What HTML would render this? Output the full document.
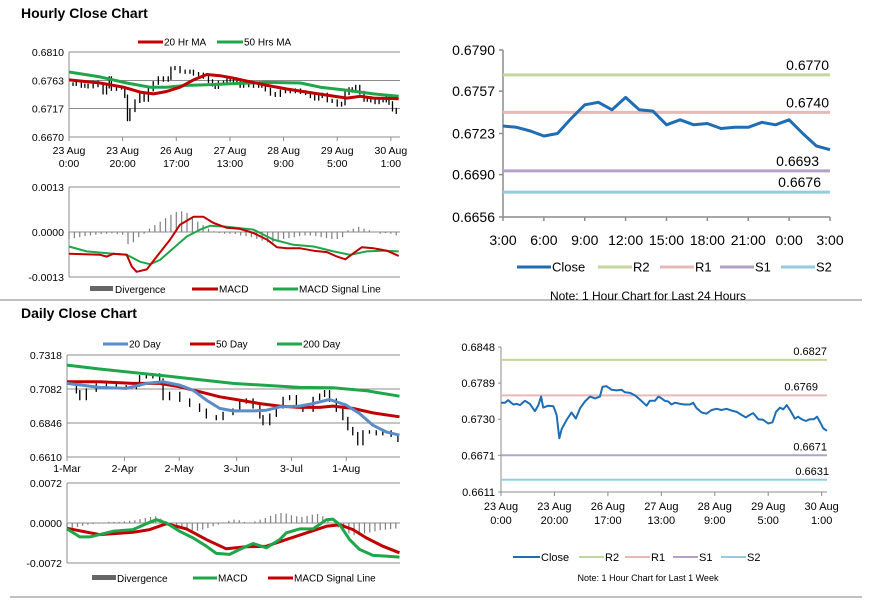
<!DOCTYPE html>
<html><head><meta charset="utf-8"><style>
html,body{margin:0;padding:0;background:#fff;}
svg{display:block;font-family:"Liberation Sans",Arial,sans-serif;}
</style></head><body>
<svg id="root" width="873" height="601" viewBox="0 0 873 601" xmlns="http://www.w3.org/2000/svg">
<text x="21" y="18" font-size="14" font-weight="bold" fill="#000">Hourly Close Chart</text>
<text x="21" y="318" font-size="14" font-weight="bold" fill="#000">Daily Close Chart</text>
<line x1="0" y1="300" x2="862" y2="300" stroke="#9a9a9a" stroke-width="1.2"/>
<line x1="10" y1="597" x2="862" y2="597" stroke="#9a9a9a" stroke-width="1.2"/>
</svg>
<script>
// ---------- DATA ----------
const weekIdx=[0,1.5,2.7,4.6,5.9,7.1,9,10.8,12.7,14,15,15.8,17.7,19.6,20.8,21.8,22.7,24.6,26.4,28,29.6,31.4,33.3,35.2,37,38,39.5,41.4,43.3,45.1,46.4,48.3,50.1,52,53.5,54.5,55.7,57.6,58.9,60.1,61.3,62.6,63.8,65.1,67,68.8,70.7,71.9,73.2,75.1,76.9,78.8,80.7,82.5,84.4,86.3,88.2,90,91.6,93.1,94.4,96.3,98.1,100,101.6,102.9,104.4,105.6,106.9,108.4,110,111.2,112.5,114.1,115.6,117.1,118.3,119.3,120.6,122];
const weekClose=[0.6757,0.6757,0.6761,0.6754,0.6755,0.6753,0.6760,0.6755,0.6743,0.6753,0.6767,0.6749,0.6752,0.6751,0.6737,0.6699,0.6714,0.6729,0.6741,0.6731,0.6748,0.6759,0.6767,0.6764,0.6767,0.6783,0.6784,0.6778,0.6777,0.6778,0.6774,0.6773,0.6769,0.6762,0.6756,0.6752,0.6760,0.6760,0.6767,0.6764,0.6760,0.6759,0.6754,0.6757,0.6755,0.6754,0.6754,0.6757,0.6748,0.6741,0.6739,0.6745,0.6747,0.6745,0.6747,0.6744,0.6742,0.6737,0.6733,0.6737,0.6740,0.6730,0.6729,0.6723,0.6725,0.6742,0.6749,0.6746,0.6753,0.6743,0.6731,0.6734,0.6730,0.6727,0.6730,0.6730,0.6734,0.6726,0.6715,0.6711];
const weekTickIdx=[0,20,40,60,80,100,120];
const weekTickDay=["23 Aug","23 Aug","26 Aug","27 Aug","28 Aug","29 Aug","30 Aug"];
const weekTickTime=["0:00","20:00","17:00","13:00","9:00","5:00","1:00"];
const ma20Idx=[0,11.6,20.3,26.5,31.5,36.4,41.4,46.4,51.4,56.3,61.3,66.3,73.8,81.2,88.7,96.1,103.6,108.6,113.6,122.9];
const ma20Val=[0.6764,0.6759,0.6752,0.6744,0.6741,0.6745,0.6752,0.6764,0.6773,0.6771,0.6767,0.6762,0.6755,0.6749,0.6744,0.6739,0.6734,0.6737,0.6734,0.6733];
const ma50Idx=[0,11.6,21.5,30.2,36.4,43.9,51.4,61.3,73.8,86.3,93.7,103.6,113.6,122.9];
const ma50Val=[0.6777,0.6769,0.6759,0.6752,0.6752,0.6755,0.6756,0.6758,0.6760,0.6759,0.6752,0.6747,0.6741,0.6737];
const hPriceTicks=[0.6670,0.6717,0.6763,0.6810];
const hMacdTicks=[-0.0013,0.0000,0.0013];
const hMacdIdx=[0,11.6,14.1,16.5,21.5,23.4,25.2,29,32.7,37.7,41.4,46.4,50.1,53.9,58.8,63.8,68.8,73.8,77.5,81.2,86.2,91.2,96.1,99.9,103,106.1,109.2,113.6,118.5,122.9];
const hMacdVal=[-0.00063,-0.00066,-0.00071,-0.00063,-0.00066,-0.0010,-0.00115,-0.00108,-0.00071,-0.00022,0.00021,0.00044,0.00044,0.00026,0.00012,0.00009,-0.00003,-0.00022,-0.00044,-0.00047,-0.00047,-0.00054,-0.00058,-0.00071,-0.00079,-0.00061,-0.00044,-0.00047,-0.00054,-0.00069];
const hSigIdx=[0,6.6,16.5,21.5,26.5,30.2,33.9,38.9,43.9,48.9,52.6,58.8,68.8,76.2,83.7,91.2,98.6,104.8,111,117.3,122.9];
const hSigVal=[-0.00042,-0.00056,-0.00063,-0.00066,-0.00086,-0.00093,-0.00081,-0.00047,-0.00013,0.00007,0.00018,0.00015,0.00007,-0.00022,-0.00037,-0.00042,-0.00056,-0.00066,-0.00056,-0.00054,-0.00056];
const hDiv=[-0.0002,-0.00018,-0.00015,-0.00012,-0.0001,-0.00008,-0.00006,-0.00005,-0.00004,-0.00006,-0.00008,-0.00035,-0.0003,-0.00015,-0.00005,0.0001,0.0002,0.0003,0.0004,0.0005,0.00058,0.0006,0.00055,0.0004,0.0003,0.0002,0.0001,0.00002,-0.00003,-0.00005,-0.00005,-0.00006,-0.0001,-0.00012,-0.00015,-0.0002,-0.00025,-0.0003,-0.0003,-0.00025,-0.0002,-0.00018,-0.00015,-0.00012,-0.0001,-0.0001,-0.00012,-0.00015,-0.00018,-0.0002,-0.0002,-0.00015,0.00005,0.0001,0.00015,0.0001,0.00005,0.0,-0.00005,-0.00003,-0.00005,-0.0001];
const dayIdx=[0,3.6,4.9,7.4,11.2,15.1,18.9,22.7,26.6,27.8,30.4,32.9,35.5,36.8,39.3,43.2,47,50.8,53.4,57.2,59.8,63.6,66.2,68.7,71.3,73.9,75.1,77.7,80.2,82.8,85.3,87.9,90.4,94.3,96.8,98.7,100.6,103.2,105.7,107.6,109.5,111.4,113.4,115.9,118.5,121,124.2,126.8];
const dayClose=[0.7102,0.7063,0.7016,0.7074,0.7109,0.7121,0.7097,0.7093,0.7109,0.7167,0.7167,0.7179,0.7144,0.7016,0.7051,0.7005,0.6970,0.6935,0.6889,0.6877,0.6912,0.6935,0.6993,0.7005,0.6958,0.6889,0.6842,0.6900,0.6958,0.7016,0.7028,0.6958,0.6935,0.7016,0.7039,0.7063,0.7005,0.6935,0.6877,0.6807,0.6772,0.6703,0.6784,0.6784,0.6772,0.6784,0.6761,0.6726];
const dayTickIdx=[0,22,43,65,86,107];
const dayTickLbl=["1-Mar","2-Apr","2-May","3-Jun","3-Jul","1-Aug"];
const d20Idx=[0,12.5,22.7,30.4,36.8,43.2,48.3,53.4,58.5,63.6,71.3,76.4,81.5,89.1,94.3,100.6,107,112.1,117.2,122.3,127.4];
const d20Val=[0.7121,0.7093,0.7086,0.7121,0.7132,0.7109,0.7074,0.7005,0.6947,0.6930,0.6930,0.6935,0.6958,0.6963,0.6981,0.7009,0.6970,0.6912,0.6831,0.6784,0.6761];
const d50Idx=[0,12.5,25.3,35.5,43.2,50.8,58.5,66.2,73.9,81.5,89.1,96.8,101.9,109.5,117.2,127.4];
const d50Val=[0.7132,0.7132,0.7121,0.7121,0.7097,0.7063,0.7028,0.7005,0.6981,0.6963,0.6954,0.6954,0.6963,0.6947,0.6916,0.6889];
const d200Idx=[0,12.5,38.1,63.6,89.1,101.9,114.7,127.4];
const d200Val=[0.7248,0.7221,0.7172,0.7121,0.7093,0.7091,0.7070,0.7032];
const dPriceTicks=[0.6610,0.6846,0.7082,0.7318];
const dMacdTicks=[-0.0072,0.0000,0.0072];
const dMacdIdx=[0,4.9,8.7,12.5,17.6,25.3,30.4,34.2,38.1,43.2,48.3,53.4,57.2,62.3,66.2,71.3,76.4,81.5,84,89.1,94.3,99.4,101.9,104.5,108.3,112.1,117.2,122.3,127.4];
const dMacdVal=[-0.00107,-0.0025,-0.0025,-0.00208,-0.00149,-0.00119,-0.00012,0.0006,0,-0.00149,-0.00268,-0.00417,-0.00548,-0.00565,-0.00476,-0.00369,-0.00446,-0.00298,-0.00179,-0.00107,-0.00107,0.0006,0.00071,-0.0003,-0.00298,-0.00476,-0.00583,-0.00595,-0.00613];
const dSigIdx=[0,12.5,25.3,31.7,38.1,45.8,53.4,61,68.7,76.4,84,91.7,99.4,104.5,109.6,114.7,121,127.4];
const dSigVal=[-0.00095,-0.00208,-0.00167,-0.00119,-0.00012,-0.00107,-0.00298,-0.00464,-0.00429,-0.00417,-0.00298,-0.00179,-0.0006,-0.0003,-0.00119,-0.00268,-0.00417,-0.00536];
const dDiv=[-0.0008,-0.0009,-0.0007,-0.0005,-0.0003,-0.0002,-0.0001,0.0001,0.0002,0.0002,0.0002,0.0003,0.0004,0.0005,0.0007,0.0009,0.0011,0.0012,0.0008,0.0003,-0.0002,-0.0006,-0.0009,-0.0012,-0.0013,-0.0014,-0.0012,-0.0009,-0.0006,-0.0003,0.0001,0.0004,0.0006,0.0005,0.0002,0.0001,0.0003,0.0006,0.0009,0.0013,0.0016,0.0018,0.0017,0.0014,0.0012,0.0011,0.0013,0.0015,0.0016,0.0012,0.0006,0.0,-0.0008,-0.0014,-0.0019,-0.0022,-0.0022,-0.0019,-0.0017,-0.0015,-0.0013,-0.0012,-0.0011,-0.0010];
const dayHours=[0,1,2,3,4,5,6,7,8,9,10,11,12,13,14,15,16,17,18,19,20,21,22,23,24];
const dayHourClose=[0.6729,0.6728,0.6725,0.6721,0.6723,0.6735,0.6746,0.6748,0.6742,0.6752,0.6742,0.6741,0.6730,0.6734,0.6730,0.6731,0.6727,0.6728,0.6728,0.6732,0.6730,0.6734,0.6723,0.6713,0.6710];
const hourTickLbl=["3:00","6:00","9:00","12:00","15:00","18:00","21:00","0:00","3:00"];
const h24Ticks=[0.6656,0.6690,0.6723,0.6757,0.6790];
const levelNames=["R2","R1","S1","S2"];
const h24Levels=[0.6770,0.6740,0.6693,0.6676];
const wkLevels=[0.6827,0.6769,0.6671,0.6631];
const wkTicks=[0.6611,0.6671,0.6730,0.6789,0.6848];

// ---------- DRAWING ----------
const NS="http://www.w3.org/2000/svg";
const root=document.getElementById('root');
function mk(tag,parent){const e=document.createElementNS(NS,tag);parent.appendChild(e);return e;}
function lin(d0,d1,r0,r1){return v=>r0+(v-d0)*(r1-r0)/(d1-d0);}
function line(p,x1,y1,x2,y2,c,w){const e=mk('line',p);e.setAttribute('x1',x1);e.setAttribute('y1',y1);e.setAttribute('x2',x2);e.setAttribute('y2',y2);e.setAttribute('stroke',c);e.setAttribute('stroke-width',w);return e;}
function txt(p,x,y,s,size,anchor){const e=mk('text',p);e.setAttribute('x',x);e.setAttribute('y',y);e.setAttribute('font-size',size);e.setAttribute('text-anchor',anchor||'start');e.setAttribute('fill','#000');e.textContent=s;return e;}
function poly(p,xs,ys,sx,sy,c,w){const e=mk('polyline',p);e.setAttribute('points',xs.map((x,i)=>sx(x).toFixed(1)+','+sy(ys[i]).toFixed(1)).join(' '));e.setAttribute('fill','none');e.setAttribute('stroke',c);e.setAttribute('stroke-width',w);e.setAttribute('stroke-linejoin','round');return e;}
function grp(name){const g=mk('g',root);return g;}
function legendItem(p,x1,x2,y,c,w,label,size,name){
  const g=mk('g',p);
  
  
  line(g,x1,y,x2,y,c,w);
  txt(g,x2+1,y+size*0.36,label,size);
}
function fmt(v){return v.toFixed(4);}
function leftAxes(g,x0,x1,sy,ticks,size){
  ticks.forEach(t=>{
    const gl=line(g,x0,sy(t),x1,sy(t),'#8c8c8c',1);
    
    const lb=txt(g,x0-5,sy(t)+4,fmt(t),size,'end');
    
  });
  const ax=line(g,x0,sy(ticks[ticks.length-1]),x0,sy(ticks[0]),'#8c8c8c',1);
  
}

// ===== Panel 1 =====
{
const g=grp('hourly-price-chart');
const sx=lin(0,123.4,69,400), sy=lin(0.6670,0.6810,137,52);
leftAxes(g,69,400,sy,hPriceTicks,10.5);
weekTickIdx.forEach((t,i)=>{
  line(g,sx(t),137,sx(t),141,'#8c8c8c',1);
  const a=txt(g,sx(t),154,weekTickDay[i],10.5,'middle');
  
  const b=txt(g,sx(t),167,weekTickTime[i],10.5,'middle');
  
});
for(let i=1;i<weekClose.length;i++){
  const lo=Math.min(weekClose[i-1],weekClose[i])-0.0003, hi=Math.max(weekClose[i-1],weekClose[i])+0.0003;
  const s=line(g,sx(weekIdx[i]),sy(hi),sx(weekIdx[i]),sy(lo),'#000',1.3);
  
  
}
const m1=poly(g,ma50Idx,ma50Val,sx,sy,'#1fa64a',3);

const m2=poly(g,ma20Idx,ma20Val,sx,sy,'#c00000',3);

legendItem(g,138,163,42,'#c00000',3,'20 Hr MA',10,'legend-ma20');
legendItem(g,217,243,42,'#1fa64a',3,'50 Hrs MA',10,'legend-ma50');
}
// ===== Panel 2 =====
{
const g=grp('hourly-macd-chart');
const sx=lin(0,123.4,69,400), sy=lin(-0.0013,0.0013,277,187);
leftAxes(g,69,400,sy,hMacdTicks,10.5);
hDiv.forEach((v,i)=>{
  const b=line(g,sx(i*2),sy(0),sx(i*2),sy(v),'#7f7f7f',1.2);
  
});
const s=poly(g,hSigIdx,hSigVal,sx,sy,'#1fa64a',2);

const m=poly(g,hMacdIdx,hMacdVal,sx,sy,'#c00000',2);

const lg=mk('rect',g);lg.setAttribute('x',90);lg.setAttribute('y',286);lg.setAttribute('width',23);lg.setAttribute('height',5);lg.setAttribute('fill','#666');

txt(g,115,293,'Divergence',10);
legendItem(g,192,218,289,'#c00000',3,'MACD',10,'legend-macd');
legendItem(g,273,298,289,'#1fa64a',3,'MACD Signal Line',10,'legend-signal');
}
// ===== Panel 3 =====
{
const g=grp('daily-price-chart');
const sx=lin(0,127.6,67,400), sy=lin(0.6610,0.7318,457,355);
leftAxes(g,67,400,sy,dPriceTicks,10.5);
dayTickIdx.forEach((t,i)=>{
  line(g,sx(t),457,sx(t),461,'#8c8c8c',1);
  const a=txt(g,sx(t),472,dayTickLbl[i],10.5,'middle');
  
});
for(let i=1;i<dayClose.length;i++){
  const lo=Math.min(dayClose[i-1],dayClose[i])-0.0012, hi=Math.max(dayClose[i-1],dayClose[i])+0.0012;
  const s=line(g,sx(dayIdx[i]),sy(hi),sx(dayIdx[i]),sy(lo),'#000',1.3);
  
}
const a=poly(g,d200Idx,d200Val,sx,sy,'#1fa64a',3);

const b=poly(g,d50Idx,d50Val,sx,sy,'#c00000',3);

const c=poly(g,d20Idx,d20Val,sx,sy,'#5b8cc8',3);

legendItem(g,103,128,344,'#5b8cc8',3,'20 Day',10,'legend-20day');
legendItem(g,190,215,344,'#c00000',3,'50 Day',10,'legend-50day');
legendItem(g,277,302,344,'#1fa64a',3,'200 Day',10,'legend-200day');
}
// ===== Panel 4 =====
{
const g=grp('daily-macd-chart');
const sx=lin(0,127.6,67,400), sy=lin(-0.0072,0.0072,563,483);
leftAxes(g,67,400,sy,dMacdTicks,10.5);
dDiv.forEach((v,i)=>{
  const b=line(g,sx(i*2),sy(0),sx(i*2),sy(v),'#7f7f7f',1.2);
  
});
const s=poly(g,dSigIdx,dSigVal,sx,sy,'#c00000',3);

const m=poly(g,dMacdIdx,dMacdVal,sx,sy,'#1fa64a',3);

const lg=mk('rect',g);lg.setAttribute('x',92);lg.setAttribute('y',575);lg.setAttribute('width',24);lg.setAttribute('height',5);lg.setAttribute('fill','#666');

txt(g,117,582,'Divergence',10);
legendItem(g,193,217,578,'#1fa64a',3,'MACD',10,'legend-macd');
legendItem(g,268,293,578,'#c00000',3,'MACD Signal Line',10,'legend-signal');
}
const levelColors=['#c3d69b','#e6b9b8','#b3a2c7','#93cddd'];
// ===== Panel 5 =====
{
const g=grp('pivot-24h-chart');
const sx=lin(0,24,503,830), sy=lin(0.6656,0.6790,217,50);
line(g,503,50,503,217,'#8c8c8c',1.5);
line(g,503,217,830,217,'#8c8c8c',1.5);
h24Ticks.forEach(t=>{line(g,499,sy(t),503,sy(t),'#8c8c8c',1.5);
  const l=txt(g,495,sy(t)+5,fmt(t),14,'end');
  });
hourTickLbl.forEach((s,i)=>{line(g,sx(i*3),217,sx(i*3),221,'#8c8c8c',1.5);
  const l=txt(g,sx(i*3),245,s,14,'middle');
  });
const lblOff=[0,0,10,8];
h24Levels.forEach((v,i)=>{
  const l=line(g,503,sy(v),830,sy(v),levelColors[i],3);
  
  const t=txt(g,829-lblOff[i],sy(v)-5,fmt(v),14,'end');
  
});
const c=poly(g,dayHours,dayHourClose,sx,sy,'#1f6db5',3);

legendItem(g,517,551,267,'#1f6db5',3,'Close',13,'legend-close');
levelNames.forEach((n,i)=>{
  const xs=[598,660,720,781][i];
  legendItem(g,xs,xs+34,267,levelColors[i],3,n,13,'legend-'+n.toLowerCase());
});
const nt=txt(g,648,300,'Note: 1 Hour Chart for Last 24 Hours',12,'middle');

}
// ===== Panel 6 =====
{
const g=grp('pivot-week-chart');
const sx=lin(0,122,501,827), sy=lin(0.6611,0.6848,492,347);
line(g,501,347,501,492,'#8c8c8c',1);
line(g,501,492,827,492,'#8c8c8c',1);
wkTicks.forEach(t=>{line(g,498,sy(t),501,sy(t),'#8c8c8c',1);
  const l=txt(g,495,sy(t)+4,fmt(t),11,'end');
  });
weekTickIdx.forEach((t,i)=>{line(g,sx(t),492,sx(t),496,'#8c8c8c',1);
  const a=txt(g,sx(t),510,weekTickDay[i],11,'middle');
  
  const b=txt(g,sx(t),524,weekTickTime[i],11,'middle');
  });
wkLevels.forEach((v,i)=>{
  const l=line(g,501,sy(v),827,sy(v),levelColors[i],2);
  
  const t=txt(g,[827,818,827,829][i],sy(v)-5,fmt(v),11,'end');
  
});
const c=poly(g,weekIdx,weekClose,sx,sy,'#1f6db5',2);

legendItem(g,513,540,557,'#1f6db5',2,'Close',11,'legend-close');
levelNames.forEach((n,i)=>{
  const xs=[579,625,673,721][i];
  legendItem(g,xs,xs+25,557,levelColors[i],2,n,11,'legend-'+n.toLowerCase());
});
const nt=txt(g,648,581,'Note: 1 Hour Chart for Last 1 Week',9,'middle');

}
</script>
</body></html>
